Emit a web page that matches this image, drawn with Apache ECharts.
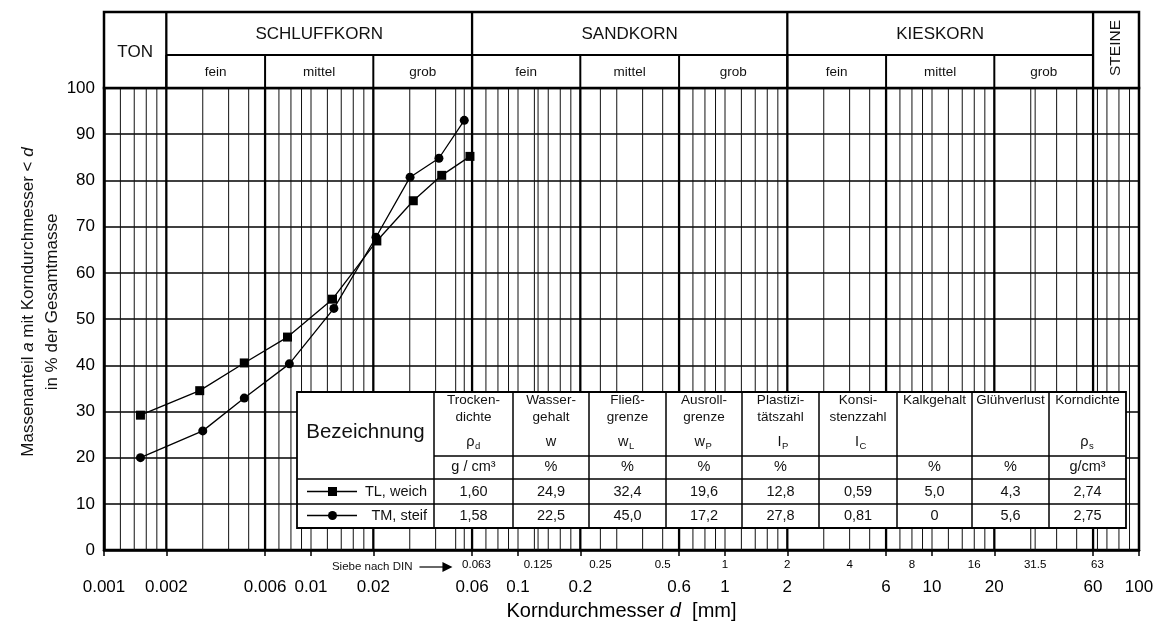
<!DOCTYPE html>
<html>
<head>
<meta charset="utf-8">
<script src="https://cdn.jsdelivr.net/npm/echarts@6/dist/echarts.min.js"></script>
<style>
  html, body { margin: 0; padding: 0; background: #fff; }
  #chart { width: 1161px; height: 626px; }
</style>
</head>
<body>
<div id="chart"></div>
<script>
const FONT = '"Liberation Sans", Arial, Helvetica, sans-serif';

// Körnungslinien: Korndurchmesser d [mm] und Massenanteil a [%]
const tlName = 'TL, weich';
const tlDiameter = [0.0015, 0.0029, 0.00476, 0.0077, 0.0127, 0.0208, 0.0312, 0.0428, 0.0586];
const tlPassing  = [29.2, 34.5, 40.5, 46.1, 54.3, 66.9, 75.6, 81.1, 85.2];
const tmName = 'TM, steif';
const tmDiameter = [0.0015, 0.0030, 0.00476, 0.00786, 0.0129, 0.0206, 0.0301, 0.0415, 0.0550];
const tmPassing  = [20.0, 25.8, 32.9, 40.3, 52.3, 67.7, 80.7, 84.8, 93.0];

// Achsenbeschriftung
const diameterLabels = ['0.001', '0.002', '0.006', '0.01', '0.02', '0.06', '0.1', '0.2', '0.6', '1', '2', '6', '10', '20', '60', '100'];
const sieveLabels = ['0.063', '0.125', '0.25', '0.5', '1', '2', '4', '8', '16', '31.5', '63'];

// Netzlinien des Körnungsdiagramms
const fractionBounds = [0.002, 0.006, 0.02, 0.06, 0.2, 0.6, 2, 6, 20, 60];
const gridDiameters = [
  0.0012, 0.0014, 0.0016, 0.0018, 0.003, 0.004, 0.005, 0.007, 0.008, 0.009,
  0.01, 0.012, 0.014, 0.016, 0.018, 0.03, 0.04, 0.05, 0.055, 0.07, 0.08, 0.09,
  0.1, 0.12, 0.125, 0.14, 0.16, 0.18, 0.25, 0.3, 0.4, 0.5, 0.7, 0.8, 0.9,
  1, 1.2, 1.4, 1.6, 1.8, 3, 4, 5, 7, 8, 9,
  10, 12, 14, 16, 18, 30, 31.5, 40, 50, 63, 70, 80, 90
];

// Kopfzeile: Bodenarten und Unterteilungen
const soilNames  = ['TON', 'SCHLUFFKORN', 'SANDKORN', 'KIESKORN', 'STEINE'];
const soilRanges = [[0.001, 0.002], [0.002, 0.06], [0.06, 2], [2, 60], [60, 100]];
const subNames   = ['fein', 'mittel', 'grob', 'fein', 'mittel', 'grob', 'fein', 'mittel', 'grob'];
const subRanges  = [[0.002, 0.006], [0.006, 0.02], [0.02, 0.06], [0.06, 0.2], [0.2, 0.6], [0.6, 2], [2, 6], [6, 20], [20, 60]];

// Tabelle der Bodenkennwerte
const propLine1 = ['Trocken-', 'Wasser-', 'Fließ-', 'Ausroll-', 'Plastizi-', 'Konsi-', 'Kalkgehalt', 'Glühverlust', 'Korndichte'];
const propLine2 = ['dichte', 'gehalt', 'grenze', 'grenze', 'tätszahl', 'stenzzahl', '', '', ''];
const propSymbol = ['ρ', 'w', 'w', 'w', 'I', 'I', '', '', 'ρ'];
const propIndex  = ['d', '', 'L', 'P', 'P', 'C', '', '', 's'];
const propUnit   = ['g / cm³', '%', '%', '%', '%', '', '%', '%', 'g/cm³'];
const tlProps = ['1,60', '24,9', '32,4', '19,6', '12,8', '0,59', '5,0', '4,3', '2,74'];
const tmProps = ['1,58', '22,5', '45,0', '17,2', '27,8', '0,81', '0', '5,6', '2,75'];

const chart = echarts.init(document.getElementById('chart'), null, { renderer: 'canvas' });

const labelFor = (list) => (v) => {
  let best = list[0], err = Infinity;
  list.forEach(s => { const e = Math.abs(Math.log10(Number(s)) - Math.log10(v)); if (e < err) { err = e; best = s; } });
  return best;
};

// senkrechte Netzlinie über die volle Höhe des Diagramms
const verticalRule = (width, color) => (params, api) => {
  const p0 = api.coord([api.value(0), 0]);
  const p1 = api.coord([api.value(0), 100]);
  return { type: 'line', shape: { x1: p0[0], y1: p0[1], x2: p1[0], y2: p1[1] },
           style: { stroke: color, lineWidth: width }, silent: true };
};

const GRID = { left: 104, right: 22, top: 88, bottom: 74 };

chart.setOption({
  animation: false,
  backgroundColor: '#fff',
  textStyle: { fontFamily: FONT, color: '#000' },
  grid: { ...GRID, show: true, borderColor: '#000', borderWidth: 2.5, backgroundColor: 'transparent' },
  xAxis: [
    {
      type: 'log', logBase: 10, min: 0.001, max: 100, position: 'bottom', offset: 0,
      axisLine: { show: true, onZero: false, lineStyle: { color: '#000', width: 2.5 } },
      axisTick: { show: true, length: 6, inside: false, lineStyle: { color: '#000', width: 1.5 },
                  customValues: diameterLabels.map(Number) },
      axisLabel: { show: true, fontSize: 17, color: '#000', margin: 29, fontFamily: FONT,
                   customValues: diameterLabels.map(Number), formatter: labelFor(diameterLabels) },
      splitLine: { show: false }, minorTick: { show: false }, minorSplitLine: { show: false },
      name: '{n|Korndurchmesser }{i|d}{n|  [mm]}', nameLocation: 'middle', nameGap: 50,
      nameTextStyle: { rich: { n: { fontSize: 20, fontFamily: FONT, color: '#000' },
                               i: { fontSize: 20, fontFamily: FONT, fontStyle: 'italic', color: '#000' } } }
    },
    {
      type: 'log', logBase: 10, min: 0.001, max: 100, position: 'bottom', offset: 0,
      axisLine: { show: false }, axisTick: { show: false },
      axisLabel: { show: true, fontSize: 11.5, color: '#000', margin: 9, fontFamily: FONT,
                   customValues: sieveLabels.map(Number), formatter: labelFor(sieveLabels) },
      splitLine: { show: false }
    }
  ],
  yAxis: {
    type: 'value', min: 0, max: 100, interval: 10,
    axisLine: { show: true, lineStyle: { color: '#000', width: 2.5 } },
    axisTick: { show: false },
    axisLabel: { fontSize: 17, color: '#000', margin: 9, fontFamily: FONT },
    splitLine: { show: true, lineStyle: { color: '#000', width: 1.5 } }
  },
  series: [
    {
      name: 'netz', type: 'custom', z: 1, silent: true, clip: false,
      data: gridDiameters.map(v => [v, 0]),
      encode: { x: 0, y: 1 },
      renderItem: verticalRule(1, '#111')
    },
    {
      name: 'grenzen', type: 'custom', z: 2, silent: true, clip: false,
      data: fractionBounds.map(v => [v, 0]),
      encode: { x: 0, y: 1 },
      renderItem: verticalRule(2.3, '#000')
    },
    {
      name: tlName, type: 'line', z: 10,
      data: tlDiameter.map((d, i) => [d, tlPassing[i]]),
      symbol: 'rect', symbolSize: 9, showSymbol: true,
      itemStyle: { color: '#000' }, lineStyle: { color: '#000', width: 1.3 }
    },
    {
      name: tmName, type: 'line', z: 10,
      data: tmDiameter.map((d, i) => [d, tmPassing[i]]),
      symbol: 'circle', symbolSize: 9, showSymbol: true,
      itemStyle: { color: '#000' }, lineStyle: { color: '#000', width: 1.3 }
    }
  ]
});

// Kopfzeile, Achsentitel und Kennwerttabelle
const px = v => chart.convertToPixel({ xAxisIndex: 0 }, v);
const py = v => chart.convertToPixel({ yAxisIndex: 0 }, v);
const yTop = py(100);
const HEAD_TOP = 12, HEAD_MID = 55;
const g = [];
const line = (x1, y1, x2, y2, w) => g.push({ type: 'line', z: 50, silent: true,
  shape: { x1, y1, x2, y2 }, style: { stroke: '#000', lineWidth: w } });
const text = (x, y, t, size, extra) => g.push({ type: 'text', z: 60, silent: true, x, y,
  style: Object.assign({ text: t, font: size + 'px ' + FONT, fill: '#111', align: 'center', verticalAlign: 'middle' }, extra || {}) });

// Kopfzeile
g.push({ type: 'rect', z: 50, silent: true, shape: { x: px(0.001), y: HEAD_TOP, width: px(100) - px(0.001), height: yTop - HEAD_TOP },
         style: { fill: '#fff', stroke: '#000', lineWidth: 2.5 } });
line(px(0.002), HEAD_MID, px(60), HEAD_MID, 2);
soilRanges.forEach((r, i) => {
  if (i > 0) line(px(r[0]), HEAD_TOP, px(r[0]), yTop, 2.3);
  const cx = (px(r[0]) + px(r[1])) / 2;
  if (soilNames[i] === 'TON') text(cx, (HEAD_TOP + yTop) / 2 + 2, soilNames[i], 17);
  else if (soilNames[i] === 'STEINE') g.push({ type: 'text', z: 60, silent: true, x: cx, y: (HEAD_TOP + yTop) / 2 - 2, rotation: Math.PI / 2,
      style: { text: soilNames[i], font: '15.5px ' + FONT, fill: '#111', align: 'center', verticalAlign: 'middle' } });
  else text(cx, (HEAD_TOP + HEAD_MID) / 2 + 1, soilNames[i], 17);
});
subRanges.forEach((r, i) => {
  line(px(r[0]), HEAD_MID, px(r[0]), yTop, 2);
  text((px(r[0]) + px(r[1])) / 2, (HEAD_MID + yTop) / 2 + 1, subNames[i], 13.5);
});

// y-Achsentitel
g.push({ type: 'text', z: 60, silent: true, x: 40, y: 302, rotation: Math.PI / 2,
  style: { text: '{n|Massenanteil }{i|a}{n| mit Korndurchmesser < }{i|d}\n{n|in % der Gesamtmasse}',
           align: 'center', verticalAlign: 'middle', fill: '#111',
           rich: { n: { font: '17px ' + FONT, fill: '#111', lineHeight: 24, align: 'center' },
                   i: { font: 'italic 17px ' + FONT, fill: '#111', lineHeight: 24 } } } });

// Siebe nach DIN
const sieveY = 567;
const arrowTip = px(0.063) - 24;
text(arrowTip - 40, sieveY, 'Siebe nach DIN', 11.5, { align: 'right' });
line(arrowTip - 33, sieveY, arrowTip - 8, sieveY, 1.2);
g.push({ type: 'polygon', z: 60, silent: true, shape: { points: [[arrowTip - 10, sieveY - 5], [arrowTip, sieveY], [arrowTip - 10, sieveY + 5]] },
         style: { fill: '#000' } });

// Kennwerttabelle
const colX = [297, 434, 513, 589, 666, 742, 819, 897, 972, 1049, 1126];
const rowY = [392, 456, 479, 504, 528];
g.push({ type: 'rect', z: 50, silent: true, shape: { x: colX[0], y: rowY[0], width: colX[10] - colX[0], height: rowY[4] - rowY[0] },
         style: { fill: '#fff', stroke: '#000', lineWidth: 1.8 } });
for (let c = 1; c < colX.length - 1; c++) line(colX[c], rowY[0], colX[c], rowY[4], 1.5);
line(colX[1], rowY[1], colX[10], rowY[1], 1.5);
line(colX[0], rowY[2], colX[10], rowY[2], 1.5);
line(colX[0], rowY[3], colX[10], rowY[3], 1.5);
text((colX[0] + colX[1]) / 2, 432, 'Bezeichnung', 20.5);
propLine1.forEach((t, i) => {
  const cx = (colX[i + 1] + colX[i + 2]) / 2;
  text(cx, 400, t, 13.5);
  if (propLine2[i]) text(cx, 417, propLine2[i], 13.5);
  if (propSymbol[i]) {
    if (propIndex[i]) {
      text(cx + 1, 442, propSymbol[i], 14.5, { align: 'right' });
      text(cx + 1.5, 446, propIndex[i], 9.5, { align: 'left' });
    } else {
      text(cx, 442, propSymbol[i], 14.5);
    }
  }
  if (propUnit[i]) text(cx, 467, propUnit[i], 14.5);
  text(cx, 491.5, tlProps[i], 14.5);
  text(cx, 515.5, tmProps[i], 14.5);
});
// Legende in der Tabelle
[[tlName, 'rect', 491.5], [tmName, 'circle', 515.5]].forEach(([name, sym, y]) => {
  line(307, y, 357, y, 1.3);
  if (sym === 'rect') g.push({ type: 'rect', z: 60, silent: true, shape: { x: 328, y: y - 4.5, width: 9, height: 9 }, style: { fill: '#000' } });
  else g.push({ type: 'circle', z: 60, silent: true, shape: { cx: 332.5, cy: y, r: 4.5 }, style: { fill: '#000' } });
  text(427, y, name, 14.5, { align: 'right' });
});

chart.setOption({ graphic: { elements: g } });
</script>
</body>
</html>
